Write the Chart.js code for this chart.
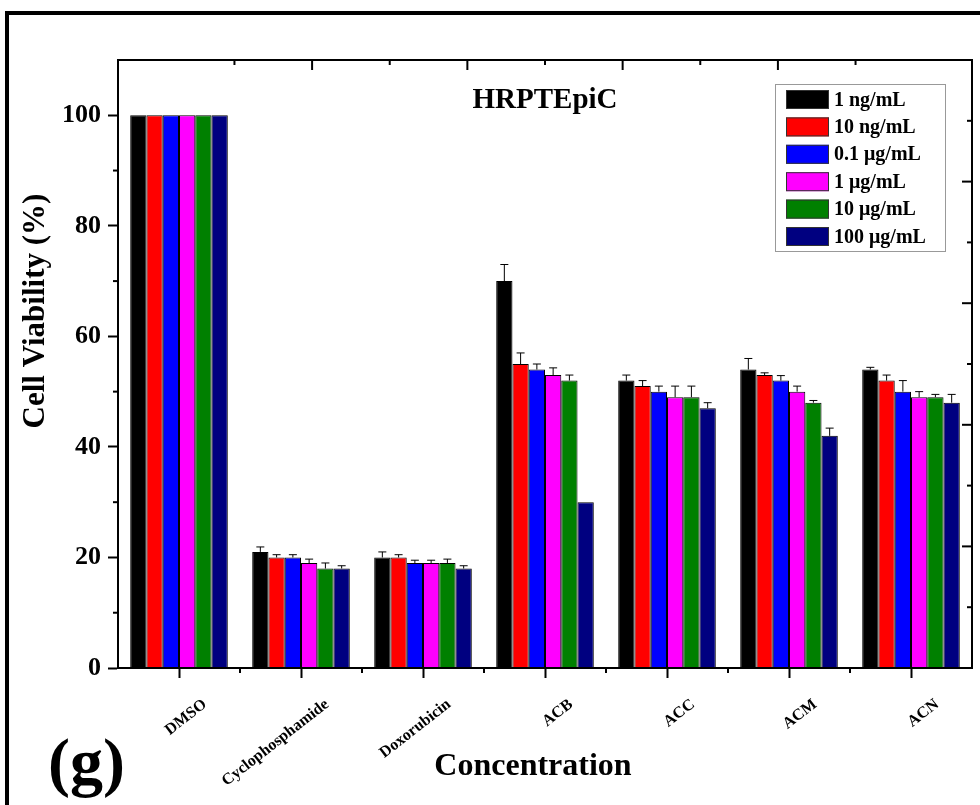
<!DOCTYPE html>
<html>
<head>
<meta charset="utf-8">
<script src="https://cdn.jsdelivr.net/npm/chart.js@4.4.0/dist/chart.umd.min.js"></script>
<style>
  html, body { margin: 0; padding: 0; background: #fff; }
</style>
</head>
<body>
<canvas id="myChart" width="980" height="805"></canvas>
<script>
var categories = ["DMSO", "Cyclophosphamide", "Doxorubicin", "ACB", "ACC", "ACM", "ACN"];
var seriesNames = ["1 ng/mL", "10 ng/mL", "0.1 \u03bcg/mL", "1 \u03bcg/mL", "10 \u03bcg/mL", "100 \u03bcg/mL"];
var seriesColors = ["#000000", "#ff0000", "#0000ff", "#ff00ff", "#008000", "#000080"];

// mean cell viability (%) per concentration, one value per category
var conc1ng   = [100, 21, 20, 70, 52, 54, 54];
var conc10ng  = [100, 20, 20, 55, 51, 53, 52];
var conc01ug  = [100, 20, 19, 54, 50, 52, 50];
var conc1ug   = [100, 19, 19, 53, 49, 50, 49];
var conc10ug  = [100, 18, 19, 52, 49, 48, 49];
var conc100ug = [100, 18, 18, 30, 47, 42, 48];

// error bars (only the upper half is drawn)
var err1ng   = [0, 0.9, 1.0, 3.0, 1.0, 2.0, 0.4];
var err10ng  = [0, 0.5, 0.5, 2.0, 1.0, 0.4, 1.0];
var err01ug  = [0, 0.5, 0.5, 1.0, 1.0, 0.9, 2.0];
var err1ug   = [0, 0.7, 0.5, 1.3, 2.0, 1.0, 1.0];
var err10ug  = [0, 1.0, 0.7, 1.0, 2.0, 0.4, 0.5];
var err100ug = [0, 0.5, 0.5, 0, 1.0, 1.4, 1.5];

var yTicks = [0, 20, 40, 60, 80, 100];
var yMinorTicks = [10, 30, 50, 70, 90];
var frameTicks = [1, 2, 3, 4, 5, 6, 7, 8, 9]; // ticks of the top and right frame axes (0..10)

var values = [conc1ng, conc10ng, conc01ug, conc1ug, conc10ug, conc100ug];
var errors = [err1ng, err10ng, err01ug, err1ug, err10ug, err100ug];

var serif = "'Liberation Serif', 'Times New Roman', serif";

var datasets = values.map(function (v, i) {
  return {
    label: seriesNames[i],
    data: v,
    errors: errors[i],
    backgroundColor: seriesColors[i],
    borderColor: "#000",
    borderWidth: 1,
    categoryPercentage: 0.8,
    barPercentage: 1.0,
  };
});

var decor = {
  id: "decor",
  beforeDraw: function (chart) {
    var c = chart.ctx;
    c.save();
    c.fillStyle = "#fff";
    c.fillRect(0, 0, chart.width, chart.height);
    // outer figure frame (cut at the right and bottom)
    c.fillStyle = "#000";
    c.fillRect(5, 11, 975, 4);
    c.fillRect(5, 11, 4, 794);
    c.restore();
  },
  afterDatasetsDraw: function (chart) {
    var c = chart.ctx, a = chart.chartArea;
    var xs = chart.scales.x, ys = chart.scales.y, x2 = chart.scales.x2, y2 = chart.scales.y2;
    c.save();

    // error bars
    c.strokeStyle = "#000";
    c.lineWidth = 1;
    chart.data.datasets.forEach(function (ds, i) {
      var meta = chart.getDatasetMeta(i);
      meta.data.forEach(function (bar, j) {
        var e = ds.errors[j];
        if (!e) return;
        var top = ys.getPixelForValue(ds.data[j] + e);
        c.beginPath();
        c.moveTo(bar.x, bar.y);
        c.lineTo(bar.x, top);
        c.moveTo(bar.x - 4, top);
        c.lineTo(bar.x + 4, top);
        c.stroke();
      });
    });

    // plot box
    c.lineWidth = 2;
    c.strokeRect(a.left, a.top, a.right - a.left, a.bottom - a.top);

    // minor ticks: bottom (between categories) and left
    for (var k = 1; k < categories.length; k++) {
      var px = (xs.getPixelForValue(k - 1) + xs.getPixelForValue(k)) / 2;
      c.beginPath();
      c.moveTo(px, a.bottom);
      c.lineTo(px, a.bottom + 5);
      c.stroke();
    }
    yMinorTicks.forEach(function (v) {
      var py = ys.getPixelForValue(v);
      c.beginPath();
      c.moveTo(a.left, py);
      c.lineTo(a.left - 5, py);
      c.stroke();
    });

    // inward ticks on the top and right frame axes
    frameTicks.forEach(function (v) {
      var len = v % 2 === 0 ? 10 : 5;
      var px = x2.getPixelForValue(v);
      c.beginPath();
      c.moveTo(px, a.top);
      c.lineTo(px, a.top + len);
      c.stroke();
      var py = y2.getPixelForValue(v);
      c.beginPath();
      c.moveTo(a.right, py);
      c.lineTo(a.right - len, py);
      c.stroke();
    });

    // legend
    var lx = 775, ly = 84, lw = 170, lh = 167, rowH = 27.4;
    c.lineWidth = 1;
    c.strokeStyle = "#999";
    c.fillStyle = "#fff";
    c.fillRect(lx, ly, lw, lh);
    c.strokeRect(lx + 0.5, ly + 0.5, lw, lh);
    c.font = "bold 20px " + serif;
    c.textBaseline = "middle";
    c.textAlign = "left";
    chart.data.datasets.forEach(function (ds, i) {
      var cy = ly + 15.5 + i * rowH;
      c.fillStyle = ds.backgroundColor;
      c.fillRect(786, cy - 9.5, 43, 19);
      c.strokeStyle = "#333";
      c.strokeRect(786.5, cy - 9, 42, 18);
      c.fillStyle = "#000";
      c.fillText(ds.label, 834, cy + 1);
    });

    // texts
    c.fillStyle = "#000";
    c.textBaseline = "alphabetic";
    c.textAlign = "center";
    c.font = "bold 29px " + serif;
    c.fillText("HRPTEpiC", 545, 108);
    c.font = "bold 32px " + serif;
    c.fillText("Concentration", 533, 775);
    c.textAlign = "left";
    c.font = "bold 66px " + serif;
    c.fillText("(g)", 48, 784);

    c.translate(36, 311);
    c.rotate(-Math.PI / 2);
    c.textAlign = "center";
    c.textBaseline = "middle";
    c.font = "bold 31px " + serif;
    c.fillText("Cell Viability (%)", 0, 0);
    c.restore();
  },
};

document.addEventListener("DOMContentLoaded", function () {
  var ctx = document.getElementById("myChart").getContext("2d");

  var myChart = new Chart(ctx, {
    type: "bar",
    data: {
      labels: categories,
      datasets: datasets,
    },
    options: {
      responsive: false,
      animation: false,
      devicePixelRatio: 1,
      layout: { padding: { top: 60, right: 8, left: 0, bottom: 0 } },
      plugins: {
        legend: { display: false },
        tooltip: { enabled: false },
      },
      scales: {
        x: {
          type: "category",
          position: "bottom",
          offset: true,
          afterFit: function (scale) { scale.height = 137; },
          grid: {
            offset: false,
            drawOnChartArea: false,
            tickLength: 10,
            tickWidth: 2,
            tickColor: "#000",
          },
          border: { display: true, color: "#000", width: 2 },
          ticks: {
            autoSkip: false,
            minRotation: 38,
            maxRotation: 38,
            labelOffset: 26,
            padding: 17,
            color: "#000",
            font: { family: serif, size: 16, weight: "bold" },
          },
        },
        y: {
          type: "linear",
          position: "left",
          min: 0,
          max: 110,
          afterFit: function (scale) { scale.width = 118; },
          afterBuildTicks: function (scale) {
            scale.ticks = yTicks.map(function (v) { return { value: v }; });
          },
          grid: {
            drawOnChartArea: false,
            tickLength: 10,
            tickWidth: 2,
            tickColor: "#000",
          },
          border: { display: true, color: "#000", width: 2 },
          ticks: {
            padding: 7,
            color: "#000",
            font: { family: serif, size: 26, weight: "bold" },
          },
        },
        x2: { type: "linear", position: "top", min: 0, max: 10, display: false },
        y2: { type: "linear", position: "right", min: 0, max: 10, display: false },
      },
    },
    plugins: [decor],
  });
});
</script>
</body>
</html>
